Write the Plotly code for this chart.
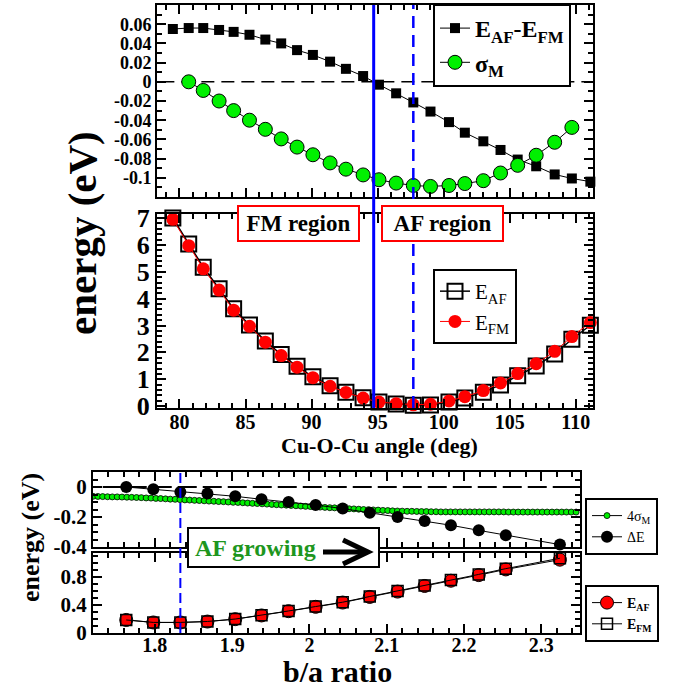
import plotly.graph_objects as go

# ---------------- data ----------------
angle = [79.5, 80.7, 81.8, 83.0, 84.1, 85.3, 86.5, 87.7, 88.9, 90.1, 91.4, 92.6, 93.9,
         95.1, 96.4, 97.7, 99.0, 100.4, 101.6, 103.0, 104.3, 105.6, 107.0, 108.4, 109.7, 111.1]
diff_af_fm = [0.055, 0.056, 0.056, 0.054, 0.052, 0.049, 0.044, 0.040, 0.033, 0.028, 0.021, 0.0135, 0.006,
              -0.003, -0.012, -0.0215, -0.031, -0.042, -0.053, -0.062, -0.071, -0.081, -0.088, -0.0965, -0.1007, -0.104]
sigma_angle = [80.7, 81.8, 83.0, 84.1, 85.3, 86.5, 87.7, 88.9, 90.1, 91.4, 92.6, 93.9,
               95.1, 96.4, 97.7, 99.0, 100.4, 101.6, 103.0, 104.3, 105.6, 107.0, 108.4, 109.7]
sigma_m = [0.0, -0.009, -0.020, -0.030, -0.040, -0.0495, -0.0595, -0.068, -0.076, -0.0845, -0.091, -0.097,
           -0.102, -0.1055, -0.108, -0.109, -0.108, -0.106, -0.103, -0.095, -0.087, -0.0765, -0.063, -0.0475]
e_af_angle = [7.00, 6.03, 5.17, 4.37, 3.62, 3.02, 2.42, 1.92, 1.48, 1.09, 0.76, 0.52, 0.31,
              0.15, 0.08, 0.03, 0.04, 0.15, 0.30, 0.52, 0.79, 1.13, 1.49, 1.94, 2.49, 3.01]
e_fm_angle = [6.95, 5.97, 5.11, 4.32, 3.57, 2.97, 2.38, 1.88, 1.45, 1.06, 0.74, 0.51, 0.30,
              0.15, 0.09, 0.05, 0.07, 0.19, 0.35, 0.58, 0.86, 1.21, 1.58, 2.04, 2.59, 3.11]
crossover_angle = 94.7
min_angle = 97.7

ba_ratio = [1.763, 1.798, 1.833, 1.868, 1.904, 1.938, 1.973, 2.008, 2.043, 2.078, 2.114, 2.149,
            2.183, 2.219, 2.254, 2.324]
delta_e = [0.0, -0.015, -0.033, -0.044, -0.062, -0.082, -0.100, -0.120, -0.144, -0.171, -0.200, -0.227,
           -0.255, -0.289, -0.322, -0.384]
e_af_ba = [0.186, 0.150, 0.150, 0.163, 0.197, 0.250, 0.311, 0.373, 0.434, 0.514, 0.590, 0.670,
           0.745, 0.825, 0.906, 1.045]
e_fm_ba = [0.186, 0.151, 0.151, 0.164, 0.199, 0.252, 0.314, 0.377, 0.439, 0.520, 0.597, 0.678,
           0.754, 0.835, 0.917, 1.065]
ba_fine = [1.72, 1.7263, 1.7325, 1.7388, 1.745, 1.7513, 1.7575, 1.7638, 1.77, 1.7763, 1.7825, 1.7888,
           1.795, 1.8013, 1.8075, 1.8138, 1.82, 1.8263, 1.8325, 1.8388, 1.845, 1.8513, 1.8575, 1.8638,
           1.87, 1.8763, 1.8825, 1.8888, 1.895, 1.9013, 1.9075, 1.9138, 1.92, 1.9263, 1.9325, 1.9388,
           1.945, 1.9513, 1.9575, 1.9638, 1.97, 1.9763, 1.9825, 1.9888, 1.995, 2.0013, 2.0075, 2.0138,
           2.02, 2.0263, 2.0325, 2.0388, 2.045, 2.0513, 2.0575, 2.0638, 2.07, 2.0763, 2.0825, 2.0888,
           2.095, 2.1013, 2.1075, 2.1138, 2.12, 2.1263, 2.1325, 2.1388, 2.145, 2.1513, 2.1575, 2.1638,
           2.17, 2.1763, 2.1825, 2.1888, 2.195, 2.2013, 2.2075, 2.2138, 2.22, 2.2263, 2.2325, 2.2388,
           2.245, 2.2513, 2.2575, 2.2638, 2.27, 2.2763, 2.2825, 2.2888, 2.295, 2.3013, 2.3075, 2.3138,
           2.32, 2.3263, 2.3325, 2.3388, 2.345]
four_sigma_m = [-0.062, -0.063, -0.064, -0.065, -0.066, -0.066, -0.067, -0.068, -0.069, -0.070, -0.071,
                -0.073, -0.074, -0.076, -0.077, -0.079, -0.081, -0.082, -0.084, -0.086, -0.087, -0.089,
                -0.090, -0.092, -0.094, -0.095, -0.097, -0.098, -0.100, -0.102, -0.103, -0.105, -0.107,
                -0.109, -0.110, -0.112, -0.114, -0.116, -0.118, -0.120, -0.121, -0.123, -0.125, -0.127,
                -0.129, -0.130, -0.132, -0.134, -0.136, -0.138, -0.139, -0.141, -0.143, -0.145, -0.146,
                -0.148, -0.150, -0.151, -0.153, -0.154, -0.156, -0.157, -0.159, -0.160, -0.161, -0.162,
                -0.162, -0.163, -0.164, -0.164, -0.165, -0.165, -0.166, -0.166, -0.166, -0.166, -0.166,
                -0.166, -0.166, -0.166, -0.166, -0.166, -0.166, -0.166, -0.166, -0.166, -0.167, -0.167,
                -0.167, -0.167, -0.167, -0.167, -0.167, -0.167, -0.167, -0.167, -0.167, -0.167, -0.167,
                -0.167, -0.167]
min_ratio = 1.833

top_yticks = [-0.1, -0.08, -0.06, -0.04, -0.02, 0, 0.02, 0.04, 0.06]
top_ytext = ["-0.1", "-0.08", "-0.06", "-0.04", "-0.02", "0", "0.02", "0.04", "0.06"]
mid_yticks = [0, 1, 2, 3, 4, 5, 6, 7]
angle_ticks = [80, 85, 90, 95, 100, 105, 110]
ba_ticks = [1.8, 1.9, 2.0, 2.1, 2.2, 2.3]
ba_text = ["1.8", "1.9", "2", "2.1", "2.2", "2.3"]
bu_yticks = [-0.4, -0.2, 0]
bu_ytext = ["-0.4", "-0.2", "0"]
bl_yticks = [0, 0.4, 0.8]
bl_ytext = ["0", "0.4", "0.8"]

# ---------------- layout helpers ----------------
W, H = 675, 689
def fx(p): return p / W
def fy(p): return 1 - p / H

SERIF = "Liberation Serif"
GREEN = "#00f000"

fig = go.Figure()

fig.add_trace(go.Scatter(x=angle, y=diff_af_fm, mode="lines+markers", xaxis="x", yaxis="y",
                         name="E<sub>AF</sub>-E<sub>FM</sub>", legend="legend", cliponaxis=False,
                         line=dict(color="black", width=1),
                         marker=dict(symbol="square", size=10, color="black")))
fig.add_trace(go.Scatter(x=sigma_angle, y=sigma_m, mode="lines+markers", xaxis="x", yaxis="y",
                         name="σ<sub>M</sub>", legend="legend", cliponaxis=False,
                         line=dict(color="black", width=1),
                         marker=dict(symbol="circle", size=14, color=GREEN, line=dict(color="black", width=1))))
fig.add_trace(go.Scatter(x=angle, y=e_af_angle, mode="lines+markers", xaxis="x2", yaxis="y2",
                         name="E<sub>AF</sub>", legend="legend2", cliponaxis=False,
                         line=dict(color="black", width=1.5),
                         marker=dict(symbol="square-open", size=15, color="black", line=dict(color="black", width=2))))
fig.add_trace(go.Scatter(x=angle, y=e_fm_angle, mode="lines+markers", xaxis="x2", yaxis="y2",
                         name="E<sub>FM</sub>", legend="legend2", cliponaxis=False,
                         line=dict(color="red", width=1),
                         marker=dict(symbol="circle", size=13, color="red")))
fig.add_trace(go.Scatter(x=ba_fine, y=four_sigma_m, mode="lines+markers", xaxis="x3", yaxis="y3",
                         name="4σ<sub>M</sub>", legend="legend3",
                         line=dict(color="black", width=1),
                         marker=dict(symbol="circle", size=6, color=GREEN, line=dict(color="black", width=0.8))))
fig.add_trace(go.Scatter(x=ba_ratio, y=delta_e, mode="lines+markers", xaxis="x3", yaxis="y3",
                         name="ΔE", legend="legend3", cliponaxis=False,
                         line=dict(color="black", width=1),
                         marker=dict(symbol="circle", size=12, color="black")))
fig.add_trace(go.Scatter(x=ba_ratio, y=e_af_ba, mode="lines+markers", xaxis="x4", yaxis="y4",
                         name="E<sub>AF</sub>", legend="legend4", cliponaxis=False,
                         line=dict(color="black", width=1),
                         marker=dict(symbol="circle", size=13, color="red", line=dict(color="black", width=1))))
fig.add_trace(go.Scatter(x=ba_ratio, y=e_fm_ba, mode="lines+markers", xaxis="x4", yaxis="y4",
                         name="E<sub>FM</sub>", legend="legend4", cliponaxis=False,
                         line=dict(color="black", width=1),
                         marker=dict(symbol="square-open", size=11, color="black", line=dict(color="black", width=1.5))))

def axis_style(**kw):
    d = dict(showline=True, linecolor="black", linewidth=2, mirror="ticks", ticks="inside",
             ticklen=9, tickwidth=1.5, tickcolor="black", showgrid=False, zeroline=False,
             automargin=False,
             tickfont=dict(family=SERIF, size=20, color="black", weight="bold"))
    d.update(kw)
    return d

def minor(dt):
    return dict(ticks="inside", ticklen=5, tickwidth=1.5, tickcolor="black",
                tickmode="linear", tick0=0, dtick=dt, showgrid=False)

fig.update_layout(
    template="none",
    width=W, height=H, margin=dict(l=0, r=0, t=0, b=0, pad=0, autoexpand=False),
    paper_bgcolor="white", plot_bgcolor="white", showlegend=True,
    xaxis=axis_style(domain=[fx(157), fx(593)], anchor="y", range=[78.3, 111.3],
                     tickmode="array", tickvals=angle_ticks, showticklabels=False, minor=minor(1)),
    yaxis=axis_style(domain=[fy(197), fy(5)], anchor="x", range=[-0.12, 0.08],
                     tickmode="array", tickvals=top_yticks, ticktext=top_ytext, minor=minor(0.01),
                     tickfont=dict(family=SERIF, size=18, color="black", weight="bold")),
    xaxis2=axis_style(domain=[fx(157), fx(593)], anchor="y2", range=[78.3, 111.3],
                      tickmode="array", tickvals=angle_ticks, minor=minor(1), ticklabelstandoff=-5),
    yaxis2=axis_style(domain=[fy(408), fy(214)], anchor="x2", range=[-0.07, 7.15],
                      tickmode="array", tickvals=mid_yticks, minor=minor(0.2),
                      tickfont=dict(family=SERIF, size=26, color="black", weight="bold")),
    xaxis3=axis_style(domain=[fx(93), fx(580)], anchor="y3", range=[1.72, 2.35],
                      tickmode="array", tickvals=ba_ticks, showticklabels=False, minor=minor(0.02)),
    yaxis3=axis_style(domain=[fy(547), fy(472)], anchor="x3", range=[-0.4, 0.1],
                      tickmode="array", tickvals=bu_yticks, ticktext=bu_ytext, minor=minor(0.05),
                      tickfont=dict(family=SERIF, size=21, color="black", weight="bold")),
    xaxis4=axis_style(domain=[fx(93), fx(580)], anchor="y4", range=[1.72, 2.35],
                      tickmode="array", tickvals=ba_ticks, ticktext=ba_text, minor=minor(0.02),
                      ticklabelstandoff=-7),
    yaxis4=axis_style(domain=[fy(633), fy(553)], anchor="x4", range=[0, 1.14],
                      tickmode="array", tickvals=bl_yticks, ticktext=bl_ytext, minor=minor(0.1),
                      tickfont=dict(family=SERIF, size=21, color="black", weight="bold")),
    legend=dict(x=fx(433), y=fy(4), xanchor="left", yanchor="top", bgcolor="white",
                bordercolor="black", borderwidth=2,
                font=dict(family=SERIF, size=24, color="black", weight="bold")),
    legend2=dict(x=fx(433), y=fy(269), xanchor="left", yanchor="top", bgcolor="white",
                 bordercolor="black", borderwidth=2,
                 font=dict(family=SERIF, size=21, color="black")),
    legend3=dict(x=fx(585), y=fy(498), xanchor="left", yanchor="top", bgcolor="white",
                 bordercolor="black", borderwidth=2,
                 font=dict(family=SERIF, size=14, color="black")),
    legend4=dict(x=fx(585), y=fy(585), xanchor="left", yanchor="top", bgcolor="white",
                 bordercolor="black", borderwidth=2,
                 font=dict(family=SERIF, size=14, color="black", weight="bold")),
)

shapes = []
shapes.append(dict(type="line", xref="x2", yref="paper", x0=crossover_angle, x1=crossover_angle,
                   y0=fy(408), y1=fy(5), line=dict(color="#0000ff", width=3), layer="above"))
shapes.append(dict(type="line", xref="x2", yref="paper", x0=min_angle, x1=min_angle,
                   y0=fy(408), y1=fy(5), line=dict(color="#0000ff", width=2.5, dash="12px,7px"), layer="above"))
shapes.append(dict(type="line", xref="x domain", yref="y", x0=0.01, x1=1, y0=0, y1=0,
                   line=dict(color="black", width=1.5, dash="13px,7px"), layer="below"))
shapes.append(dict(type="line", xref="x3 domain", yref="y3", x0=0.02, x1=1, y0=0, y1=0,
                   line=dict(color="black", width=2, dash="19px,6px"), layer="below"))
shapes.append(dict(type="line", xref="x4", yref="paper", x0=min_ratio, x1=min_ratio,
                   y0=fy(633), y1=fy(472), line=dict(color="#0000ff", width=2, dash="10px,5px"), layer="above"))
shapes.append(dict(type="rect", xref="paper", yref="paper", x0=fx(188), x1=fx(379), y0=fy(567), y1=fy(528),
                   fillcolor="white", line=dict(color="black", width=2), layer="above"))
shapes.append(dict(type="path", xref="paper", yref="paper",
                   path=f"M{fx(323)},{fy(552)} L{fx(366)},{fy(552)}",
                   line=dict(color="black", width=5), layer="above"))
shapes.append(dict(type="path", xref="paper", yref="paper",
                   path=f"M{fx(343)},{fy(540)} L{fx(368)},{fy(552)} L{fx(343)},{fy(564)}",
                   line=dict(color="black", width=5), layer="above"))
fig.update_layout(shapes=shapes)

def note(text, x, y, size, **kw):
    d = dict(text=text, x=fx(x), y=fy(y), xref="paper", yref="paper", showarrow=False,
             xanchor="center", yanchor="middle",
             font=dict(family=SERIF, size=size, color="black", weight="bold"))
    d.update(kw)
    return d

ann = [
    note("FM region", 298, 223.5, 23, bgcolor="white", bordercolor="red", borderwidth=2,
         borderpad=3, width=113, height=27),
    note("AF region", 442, 223.5, 23, bgcolor="white", bordercolor="red", borderwidth=2,
         borderpad=3, width=113, height=27),
    note("AF growing", 193, 548, 24, xanchor="left",
         font=dict(family=SERIF, size=24, color="#1e961e", weight="bold")),
    note("energy (eV)", 82, 233, 41, textangle=-90),
    note("Cu-O-Cu angle (deg)", 379, 445, 22),
    note("energy (eV)", 30, 538, 26, textangle=-90),
    note("b/a ratio", 337, 671, 30),
]
fig.update_layout(annotations=ann)

fig.write_html("out.html")
